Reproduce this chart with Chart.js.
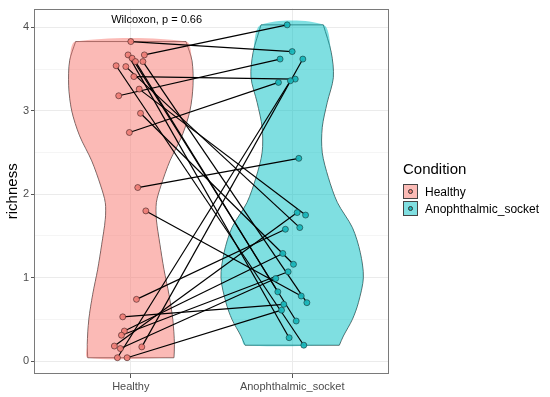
<!DOCTYPE html>
<html>
<head>
<meta charset="utf-8">
<script src="https://cdn.jsdelivr.net/npm/chart.js@4"></script>
<style>
  html, body { margin: 0; padding: 0; background: #fff; }
  #wrap { position: relative; width: 550px; height: 397px; font-family: 'Liberation Sans', Arial, sans-serif; }
  #legend { position: absolute; left: 403px; top: 160px; color: #000; }
  #legend .ttl { font-size: 15px; line-height: 18px; height: 23px; }
  #legend .row { display: flex; align-items: center; height: 17px; font-size: 12px; }
  #legend .key { width: 15px; height: 15px; border: 1px solid #444; box-sizing: border-box;
    position: relative; margin-right: 7px; }
  #legend .dot { position: absolute; left: 4px; top: 4px; width: 5px; height: 5px; border-radius: 50%;
    border: 0.8px solid #333; box-sizing: border-box; }
</style>
</head>
<body>
<div id="wrap">
  <canvas id="c" width="550" height="397"></canvas>
  <div id="legend">
    <div class="ttl">Condition</div>
    <div class="row"><div class="key" style="background:#fbbbb6"><div class="dot" style="background:#f0857c"></div></div>Healthy</div>
    <div class="row"><div class="key" style="background:#80dfe1"><div class="dot" style="background:#1cb8bd"></div></div>Anophthalmic_socket</div>
  </div>
</div>
<script>
/* paired richness: Healthy vs Anophthalmic_socket, violin + jittered points */
const GROUPS = ['Healthy', 'Anophthalmic_socket'];
const Y_TICKS = [0, 1, 2, 3, 4];

// paired samples (index i in healthy is linked to index i in socket), x = jittered position
const healthyX = [1.000, 1.084, 1.019, 0.925, 0.991, 1.043, 1.093, 1.035, 0.950, 1.068, 0.917, 0.898,
  0.960, 0.942, 0.935, 0.977, 0.983, 1.008, 1.029, 1.075, 0.969, 0.909, 1.052, 1.060];
const healthyY = [3.83, 3.67, 3.41, 3.18, 2.74, 2.08, 1.80, 0.74, 0.53, 0.17, 0.04, 0.18,
  0.36, 0.31, 0.15, 0.04, 3.67, 3.63, 3.59, 3.59, 3.53, 3.54, 3.26, 2.97];
const socketX = [2.000, 1.969, 2.019, 1.925, 1.915, 2.041, 2.056, 1.958, 1.948, 2.066, 1.989, 2.031,
  1.942, 1.975, 1.898, 1.934, 1.981, 2.025, 1.911, 2.091, 2.047, 2.072, 2.083, 2.008];
const socketY = [3.71, 4.03, 3.38, 3.62, 3.34, 2.43, 0.78, 1.58, 0.68, 3.62, 3.36, 1.78,
  1.29, 1.07, 0.99, 0.61, 0.28, 0.48, 0.83, 0.70, 1.60, 0.19, 1.75, 1.16];

// violin outlines: richness level and half width (in category units)
const violinHY = [0.04, 0.2, 0.5, 0.8, 1.1, 1.4, 1.7, 1.9, 2.1, 2.4, 2.7, 3.0, 3.3, 3.6, 3.83];
const violinHW = [0.267, 0.27, 0.26, 0.236, 0.205, 0.18, 0.158, 0.158, 0.186, 0.242, 0.317, 0.366, 0.385, 0.379, 0.342];
const violinSY = [0.19, 0.3, 0.5, 0.7, 1.0, 1.3, 1.6, 1.9, 2.2, 2.5, 2.8, 3.1, 3.4, 3.7, 4.03];
const violinSW = [0.292, 0.317, 0.373, 0.41, 0.441, 0.422, 0.373, 0.28, 0.224, 0.186, 0.186, 0.217, 0.255, 0.242, 0.193];

const P_LABEL = 'Wilcoxon, p = 0.66';

Chart.defaults.font.family = "'Liberation Sans', Arial, sans-serif";
Chart.defaults.font.size = 11;
Chart.defaults.color = '#4d4d4d';

// one side of the outline as its own smooth line, flat ends joined straight
function side(cx, ys, ws, dir) {
  return ys.map((y, i) => ({ x: cx + dir * ws[i], y }));
}
function violinSets(cx, ys, ws, fill) {
  const right = side(cx, ys, ws, 1), left = side(cx, ys, ws, -1);
  const n = ys.length - 1;
  const base = { type: 'line', borderColor: '#333', borderWidth: 0.8, pointRadius: 0, order: 2 };
  return [
    // filled body: smooth right edge, then back down the left edge
    { ...base, data: right.concat(left.slice().reverse(), [right[0]]), backgroundColor: fill,
      borderWidth: 0, fill: 'shape', tension: 0.3 },
    { ...base, data: right, tension: 0.3, fill: false },
    { ...base, data: left, tension: 0.3, fill: false },
    { ...base, data: [left[0], right[0]], fill: false },
    { ...base, data: [left[n], right[n]], fill: false }
  ];
}

const pairLines = healthyY.map((y, i) => ({
  type: 'line', data: [{ x: healthyX[i], y }, { x: socketX[i], y: socketY[i] }],
  borderColor: '#000', borderWidth: 1.2, pointRadius: 0, fill: false, order: 1
}));

const panelBox = {
  id: 'panelBox',
  afterDatasetsDraw(chart) {
    const { ctx, chartArea: a, scales: { x, y } } = chart;
    ctx.save();
    ctx.strokeStyle = '#7a7a7a'; ctx.lineWidth = 1;
    ctx.strokeRect(Math.round(a.left) + .5, Math.round(a.top) + .5,
      Math.round(a.right - a.left) - 1, Math.round(a.bottom - a.top) - 1);
    ctx.fillStyle = '#000'; ctx.font = "11px 'Liberation Sans', Arial, sans-serif";
    ctx.textAlign = 'center'; ctx.textBaseline = 'middle';
    ctx.fillText(P_LABEL, x.getPixelForValue(1.16), y.getPixelForValue(4.085));
    ctx.restore();
  }
};

new Chart('c', {
  type: 'scatter',
  data: {
    datasets: [
      { data: healthyY.map((y, i) => ({ x: healthyX[i], y })), pointRadius: 3, pointHoverRadius: 3,
        backgroundColor: 'rgba(240,128,120,0.95)', borderColor: 'rgba(60,30,30,0.75)', borderWidth: 0.8, order: 0 },
      { data: socketY.map((y, i) => ({ x: socketX[i], y })), pointRadius: 3, pointHoverRadius: 3,
        backgroundColor: 'rgba(25,183,188,0.95)', borderColor: 'rgba(20,50,50,0.75)', borderWidth: 0.8, order: 0 },
      ...pairLines,
      ...violinSets(1, violinHY, violinHW, 'rgba(248,118,109,0.5)'),
      ...violinSets(2, violinSY, violinSW, 'rgba(0,191,196,0.5)')
    ]
  },
  options: {
    responsive: false, animation: false,
    layout: { padding: { left: 0, right: 161, top: 5, bottom: 0 } },
    plugins: { legend: { display: false }, tooltip: { enabled: false } },
    scales: {
      x: {
        type: 'linear', min: 0.4, max: 2.6,
        afterBuildTicks: s => { s.ticks = [{ value: 1 }, { value: 2 }]; },
        afterFit: s => { s.height = 23; },
        ticks: { callback: v => GROUPS[v - 1], color: '#4d4d4d', padding: 2, maxRotation: 0 },
        grid: { color: '#ebebeb', tickColor: '#555', tickLength: 4 },
        border: { display: false }
      },
      y: {
        min: -0.155, max: 4.225,
        afterBuildTicks: s => {
          const t = [];
          for (let v = 0; v <= 4; v += 0.5) t.push({ value: v });
          s.ticks = t;
        },
        afterFit: s => { s.width = 34; },
        ticks: { callback: v => Y_TICKS.includes(v) ? String(v) : '', color: '#4d4d4d', padding: 2 },
        grid: {
          color: c => Number.isInteger(c.tick.value) ? '#ebebeb' : '#f5f5f5',
          tickColor: c => Number.isInteger(c.tick.value) ? '#555' : 'rgba(0,0,0,0)',
          tickLength: 3
        },
        border: { display: false },
        title: { display: true, text: 'richness', color: '#000', font: { size: 15 } }
      }
    }
  },
  plugins: [panelBox]
});
</script>
</body>
</html>
